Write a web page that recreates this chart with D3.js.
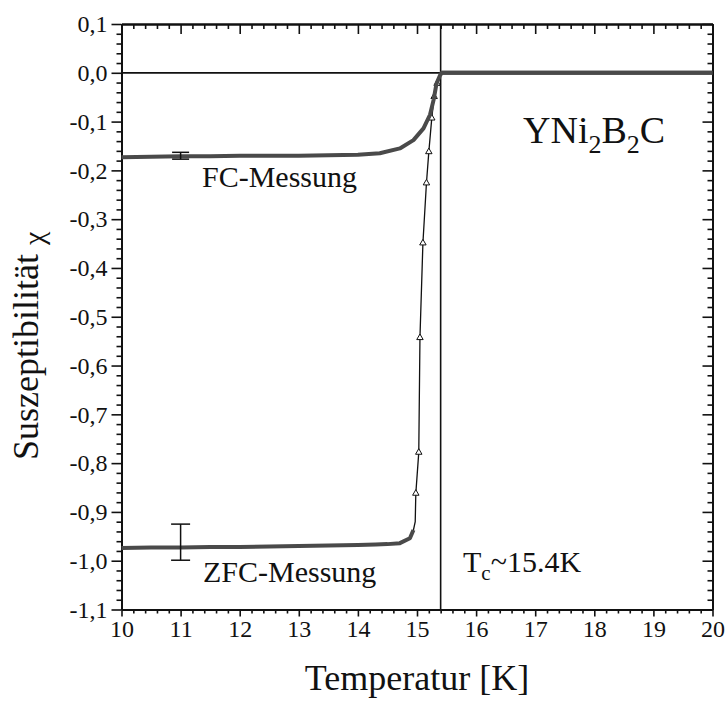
<!DOCTYPE html>
<html>
<head>
<meta charset="utf-8">
<script src="https://cdn.jsdelivr.net/npm/d3@7"></script>
<style>
  html, body { margin: 0; padding: 0; background: #fff; }
  svg { display: block; }
</style>
</head>
<body>
<svg id="chart" width="726" height="701"></svg>
<script>
// Field-cooled measurement: temperature (K) and susceptibility
const fcT   = [10.0, 10.5, 11.0, 11.5, 12.0, 12.5, 13.0, 13.5, 14.0, 14.37, 14.71, 14.94, 15.11, 15.22, 15.28, 15.33, 15.39, 15.42, 16.0, 17.0, 18.0, 19.0, 20.0];
const fcChi = [-0.173, -0.172, -0.171, -0.171, -0.170, -0.170, -0.170, -0.169, -0.168, -0.165, -0.155, -0.138, -0.114, -0.086, -0.056, -0.022, -0.005, 0.0, 0.0, 0.0, 0.0, 0.0, 0.0];

// Zero-field-cooled measurement
const zfcT   = [10.0, 10.5, 11.0, 11.5, 12.0, 12.5, 13.0, 13.5, 14.0, 14.3, 14.5, 14.71, 14.88, 14.94, 14.97, 14.98, 15.03, 15.05, 15.10, 15.16, 15.20, 15.25, 15.29, 15.34, 15.41, 15.6, 16.0, 17.0, 18.0, 19.0, 20.0];
const zfcChi = [-0.974, -0.973, -0.973, -0.972, -0.972, -0.971, -0.970, -0.969, -0.968, -0.967, -0.966, -0.964, -0.954, -0.937, -0.920, -0.862, -0.778, -0.543, -0.349, -0.226, -0.162, -0.093, -0.049, -0.022, 0.0, 0.0, 0.0, 0.0, 0.0, 0.0, 0.0];

// Error bars at T = 11 K: [T, low, high]
const fcErr  = [11.0, -0.177, -0.163];
const zfcErr = [11.0, -0.999, -0.925];

// Transition temperature
const Tc = 15.4;

// Axis ticks
const xTicks = [10, 11, 12, 13, 14, 15, 16, 17, 18, 19, 20];
const yTicks = [0.1, 0.0, -0.1, -0.2, -0.3, -0.4, -0.5, -0.6, -0.7, -0.8, -0.9, -1.0, -1.1];

const FONT = "'Liberation Serif', 'Times New Roman', Times, 'DejaVu Serif', serif";
const INK = "#111";

const svg = d3.select("#chart").attr("font-family", FONT);
const mLeft = 121.5, mRight = 712.5, mTop = 24, mBottom = 609.5;

const x = d3.scaleLinear().domain([10, 20]).range([mLeft, mRight]);
const y = d3.scaleLinear().domain([0.1, -1.1]).range([mTop, mBottom]);

const locale = d3.formatLocale({ decimal: ",", thousands: ".", grouping: [3], currency: ["", ""], minus: "-" });
const fmtY = locale.format(".1f");

const xMinor = d3.range(100, 201, 2).map(v => v / 10).filter(v => !xTicks.includes(v));
const yMinor = d3.range(-110, 11, 2).map(v => v / 100).filter(v => Math.abs(Math.round(v * 10) - v * 10) > 1e-6);

function styleAxis(g) {
  g.attr("font-family", FONT).attr("font-size", 24);
  g.selectAll("path.domain").attr("stroke", INK).attr("stroke-width", 2);
  g.selectAll(".tick line").attr("stroke", INK).attr("stroke-width", 1.6);
  g.selectAll(".tick text").attr("fill", INK).attr("font-family", FONT).attr("font-size", 24);
}

// minor ticks
svg.append("g").attr("transform", `translate(0,${mBottom})`)
  .call(d3.axisBottom(x).tickValues(xMinor).tickSize(4).tickSizeOuter(0).tickFormat(""))
  .call(styleAxis);
svg.append("g").attr("transform", `translate(0,${mTop})`)
  .call(d3.axisTop(x).tickValues(xMinor).tickSize(-5).tickSizeOuter(0).tickFormat(""))
  .call(styleAxis);
svg.append("g").attr("transform", `translate(${mLeft},0)`)
  .call(d3.axisLeft(y).tickValues(yMinor).tickSize(5).tickSizeOuter(0).tickFormat(""))
  .call(styleAxis);
svg.append("g").attr("transform", `translate(${mRight},0)`)
  .call(d3.axisRight(y).tickValues(yMinor).tickSize(-5).tickSizeOuter(0).tickFormat(""))
  .call(styleAxis);

// major ticks with labels
svg.append("g").attr("transform", `translate(0,${mBottom})`)
  .call(d3.axisBottom(x).tickValues(xTicks).tickSize(7).tickPadding(3).tickSizeOuter(0).tickFormat(d3.format("d")))
  .call(styleAxis);
svg.append("g").attr("transform", `translate(0,${mTop})`)
  .call(d3.axisTop(x).tickValues(xTicks).tickSize(-10).tickSizeOuter(0).tickFormat(""))
  .call(styleAxis);
svg.append("g").attr("transform", `translate(${mLeft},0)`)
  .call(d3.axisLeft(y).tickValues(yTicks).tickSize(10).tickPadding(4).tickSizeOuter(0).tickFormat(fmtY))
  .call(styleAxis);
svg.append("g").attr("transform", `translate(${mRight},0)`)
  .call(d3.axisRight(y).tickValues(yTicks).tickSize(-10).tickSizeOuter(0).tickFormat(""))
  .call(styleAxis);

// reference lines: zero level and Tc
svg.append("line").attr("x1", x(10)).attr("x2", x(20)).attr("y1", y(0)).attr("y2", y(0))
  .attr("stroke", INK).attr("stroke-width", 1.8);
svg.append("line").attr("x1", x(Tc)).attr("x2", x(Tc)).attr("y1", y(0.1)).attr("y2", y(-1.1))
  .attr("stroke", INK).attr("stroke-width", 1.6);

const fc  = fcT.map((t, i) => ({ T: t, chi: fcChi[i] }));
const zfc = zfcT.map((t, i) => ({ T: t, chi: zfcChi[i] }));

const thin = d3.line().x(d => x(d.T)).y(d => y(d.chi));
const dense = d3.line().x(d => x(d.T)).y(d => y(d.chi))
  .defined(d => d.T <= 14.95 || d.T >= 15.4);

// ZFC: thin connecting line, dense segments thick, open triangles on the steep part
svg.append("path").datum(zfc).attr("d", thin)
  .attr("fill", "none").attr("stroke", INK).attr("stroke-width", 1.3);
svg.append("path").datum(zfc).attr("d", dense)
  .attr("fill", "none").attr("stroke", "#4a4a4a").attr("stroke-width", 4).attr("stroke-linejoin", "round");
svg.selectAll("path.tri").data(zfc.filter(d => d.T > 14.97 && d.T < 15.4)).join("path")
  .attr("class", "tri")
  .attr("transform", d => `translate(${x(d.T)},${y(d.chi)})`)
  .attr("d", d3.symbol(d3.symbolTriangle, 18))
  .attr("fill", "#fff").attr("stroke", INK).attr("stroke-width", 1);

// FC: densely measured throughout
svg.append("path").datum(fc).attr("d", thin)
  .attr("fill", "none").attr("stroke", "#4a4a4a").attr("stroke-width", 4).attr("stroke-linejoin", "round");

// error bars
function errorBar(e, half) {
  const g = svg.append("g").attr("stroke", INK).attr("stroke-width", 1.5);
  const cx = x(e[0]);
  g.append("line").attr("x1", cx).attr("x2", cx).attr("y1", y(e[1])).attr("y2", y(e[2]));
  g.append("line").attr("x1", cx - half).attr("x2", cx + half).attr("y1", y(e[1])).attr("y2", y(e[1]));
  g.append("line").attr("x1", cx - half).attr("x2", cx + half).attr("y1", y(e[2])).attr("y2", y(e[2]));
}
errorBar(fcErr, 8.5);
errorBar(zfcErr, 9.5);

// annotations
const note = (xx, yy, size) => svg.append("text").attr("x", xx).attr("y", yy)
  .attr("font-family", FONT).attr("font-size", size).attr("fill", INK);

note(202, 187, 30).text("FC-Messung");
note(203, 582, 30).text("ZFC-Messung");

const tc = note(463, 572, 30);
tc.append("tspan").text("T");
tc.append("tspan").attr("dy", 8).attr("font-size", 21).text("c");
tc.append("tspan").attr("dy", -8).text("~15.4K");

const comp = note(523, 143, 38);
comp.append("tspan").text("YNi");
comp.append("tspan").attr("dy", 10).attr("font-size", 26).text("2");
comp.append("tspan").attr("dy", -10).text("B");
comp.append("tspan").attr("dy", 10).attr("font-size", 26).text("2");
comp.append("tspan").attr("dy", -10).text("C");

// axis titles
note((mLeft + mRight) / 2, 690, 36).attr("text-anchor", "middle").text("Temperatur [K]");

const yl = svg.append("text").attr("transform", "translate(38,460) rotate(-90)")
  .attr("font-family", FONT).attr("font-size", 36).attr("fill", INK);
yl.append("tspan").text("Suszeptibilität ");
yl.append("tspan").attr("dy", 6).attr("font-size", 30).text("χ");
</script>
</body>
</html>
